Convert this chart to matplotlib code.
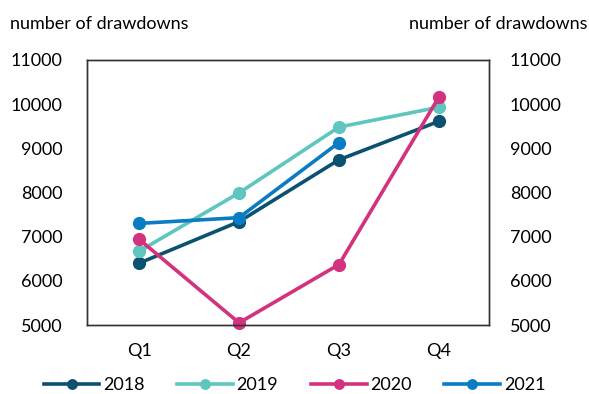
import matplotlib.pyplot as plt
import matplotlib

matplotlib.use('Agg')
plt.rcParams['font.family'] = ['Lato', 'DejaVu Sans']

quarters = ['Q1', 'Q2', 'Q3', 'Q4']
years = ['2018', '2019', '2020', '2021']
values = {
    '2018': [6400, 7340, 8740, 9610],
    '2019': [6670, 7990, 9480, 9930],
    '2020': [6940, 5050, 6370, 10160],
    '2021': [7300, 7430, 9130],
}
colors = ['#0b5170', '#5ec5bf', '#d2327e', '#0a7cc3']
yticks = [5000, 6000, 7000, 8000, 9000, 10000, 11000]

fig = plt.figure(figsize=(5.89, 3.94), dpi=100)
ax = fig.add_axes([0.148, 0.175, 0.682, 0.673])

for year, c in zip(years, colors):
    v = values[year]
    ax.plot(range(len(v)), v, color=c, linewidth=2.6, marker='o', markersize=8.5,
            label=year, clip_on=False)

ax.set_xlim(-0.52, 3.5)
ax.set_ylim(5000, 11000)
ax.set_xticks(range(4))
ax.set_xticklabels(quarters)
ax.set_yticks(yticks)
ax.tick_params(length=0, labelsize=13, pad=13)
ax.tick_params(axis='y', pad=18)

ax2 = ax.twinx()
ax2.set_ylim(5000, 11000)
ax2.set_yticks(yticks)
ax2.tick_params(length=0, labelsize=13, pad=15)

for a in (ax, ax2):
    for s in a.spines.values():
        s.set_color('#333333')
        s.set_linewidth(1)

fig.text(0.017, 0.94, 'number of drawdowns', fontsize=13, ha='left', va='center')
fig.text(0.997, 0.94, 'number of drawdowns', fontsize=13, ha='right', va='center')

fig.legend(loc='center', bbox_to_anchor=(0.5, 0.023), ncol=4, frameon=False,
           fontsize=13, handlelength=3.1, columnspacing=1.8, handletextpad=0.2,
           markerscale=0.8)

plt.savefig('out.png', dpi=100)
